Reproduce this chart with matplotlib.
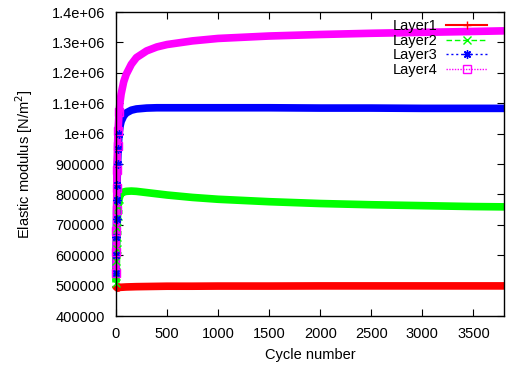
import matplotlib
matplotlib.use('Agg')
import matplotlib.pyplot as plt
from matplotlib.lines import Line2D

########################################
# Data
########################################

cycles = [0, 2, 4, 6, 8, 10, 15, 20, 30, 40, 50, 75, 100, 150, 200, 300,
          400, 500, 750, 1000, 1500, 2000, 2500, 3000, 3500, 3800]

layer1 = [500000, 497000, 495000, 494500, 494000, 494000, 494000, 494000,
          494000, 494500, 494500, 495000, 495500, 496000, 496500, 497000,
          497500, 498000, 498000, 498500, 498500, 499000, 499000, 499000,
          499000, 499000]
layer2 = [510000, 545000, 580000, 620000, 660000, 690000, 730000, 760000,
          785000, 797000, 803000, 808000, 810000, 811000, 810000, 806000,
          802000, 798000, 790000, 784000, 776000, 770000, 766000, 763000,
          760000, 759000]
layer3 = [540000, 600000, 660000, 720000, 780000, 830000, 900000, 950000,
          1000000, 1025000, 1040000, 1058000, 1068000, 1077000, 1081000,
          1084000, 1085000, 1085000, 1085000, 1085000, 1085000, 1084000,
          1084000, 1083000, 1083000, 1083000]
layer4 = [540000, 610000, 680000, 750000, 820000, 880000, 960000, 1010000,
          1070000, 1105000, 1130000, 1170000, 1195000, 1228000, 1250000,
          1272000, 1285000, 1293000, 1305000, 1313000, 1321000, 1326000,
          1330000, 1333000, 1336000, 1338000]

names = ['Layer1', 'Layer2', 'Layer3', 'Layer4']

yticks = [400000, 500000, 600000, 700000, 800000, 900000, 1000000,
          1100000, 1200000, 1300000, 1400000]
ytick_labels = ['400000', '500000', '600000', '700000', '800000', '900000',
                '1e+06', '1.1e+06', '1.2e+06', '1.3e+06', '1.4e+06']
xticks = [0, 500, 1000, 1500, 2000, 2500, 3000, 3500]

########################################
# Styles (gnuplot look)
########################################

colors = ['#ff0000', '#00ff00', '#0000ff', '#ff00ff']
markers = ['+', 'x', (8, 2, 0), 's']   # (8, 2, 0) = gnuplot style asterisk
dashes = ['-', (0, (4, 2)), (0, (1.5, 2)), (0, (1, 1))]
N_MARK = 9  # early points where the single markers are visible

plt.rcParams['font.family'] = ['Liberation Sans', 'DejaVu Sans']
plt.rcParams['font.size'] = 10.5

fig = plt.figure(figsize=(5.07, 3.65), dpi=100)
ax = fig.add_axes([116 / 507, 49 / 365, 388 / 507, 304 / 365])

for ys, c in zip([layer1, layer2, layer3, layer4], colors):
    ax.plot(cycles, ys, color=c, lw=5.5, solid_capstyle='butt',
            solid_joinstyle='round', clip_on=False, zorder=2)
for ys, c, m in zip([layer1, layer2, layer3, layer4], colors, markers):
    ax.plot(cycles[:N_MARK], ys[:N_MARK], ls='none', marker=m, ms=6,
            mfc='none', mec=c, mew=1.0, clip_on=False, zorder=3)

ax.set_xlim(0, 3800)
ax.set_ylim(400000, 1400000)
ax.set_xticks(xticks)
ax.set_xticklabels([str(t) for t in xticks])
ax.set_yticks(yticks)
ax.set_yticklabels(ytick_labels)
ax.tick_params(direction='in', length=5, width=0.8, top=True, right=True,
               pad=8)
ax.tick_params(axis='y', pad=8)
for s in ax.spines.values():
    s.set_linewidth(1.0)
    s.set_zorder(5)

ax.set_xlabel('Cycle number', labelpad=5)
ax.set_ylabel('Elastic modulus [N/m$^2$]', labelpad=12)

handles = [Line2D([], [], color=c, ls=d, marker=m, ms=6, mfc='none',
                  lw=1.5 if i == 0 else 1.0)
           for i, (c, d, m) in enumerate(zip(colors, dashes, markers))]
ax.legend(handles, names, loc='upper right', frameon=False,
          markerfirst=False, handlelength=2.8, handletextpad=0.6,
          labelspacing=0.05, borderpad=0, borderaxespad=0,
          bbox_to_anchor=(487 / 507, 346 / 365),
          bbox_transform=fig.transFigure)

fig.savefig('out.png', dpi=100)
